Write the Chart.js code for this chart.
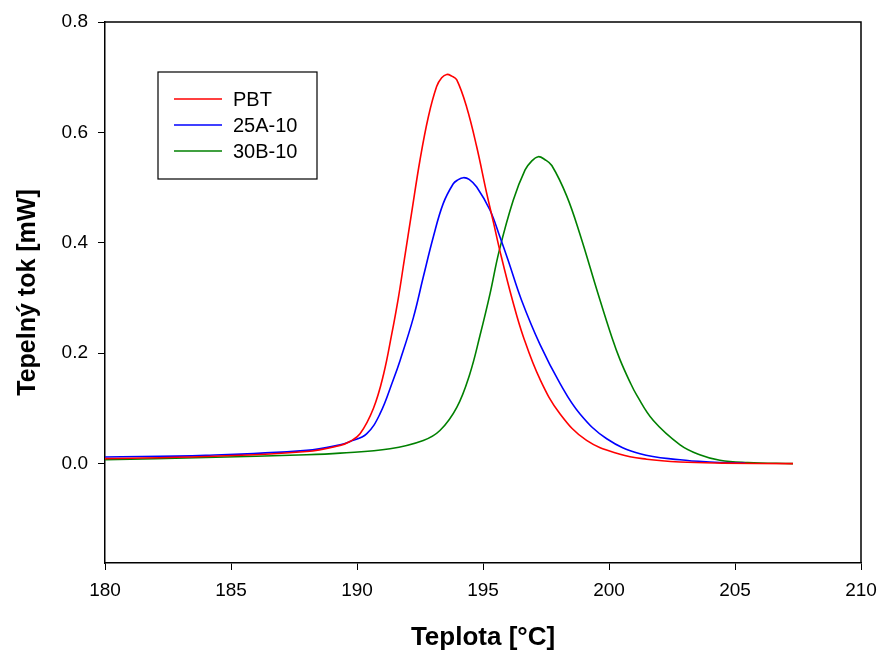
<!DOCTYPE html>
<html>
<head>
<meta charset="utf-8">
<script src="https://cdn.jsdelivr.net/npm/chart.js@4.4.0/dist/chart.umd.min.js"></script>
<style>
  html, body { margin: 0; padding: 0; background: #fff; }
  #wrap { width: 881px; height: 655px; }
</style>
</head>
<body>
<div id="wrap"><canvas id="dscChart" width="881" height="655"></canvas></div>
<script>
// DSC krystalizace - teplota [°C] a tepelný tok [mW]
var pbtT = [180, 184, 188, 189.33, 189.72, 190.12, 190.65, 191.05, 191.38, 191.64, 191.88, 192.17, 192.5, 192.83, 193.16, 193.36, 193.56, 193.76, 193.96, 194.35, 194.75, 195.15, 195.41, 195.7, 196.17, 196.6, 197.26, 198.06, 199.11, 200.44, 201.5, 202.82, 204.5, 207.3];
var pbtQ = [0.009, 0.013, 0.022, 0.033, 0.040, 0.054, 0.100, 0.161, 0.235, 0.300, 0.370, 0.455, 0.550, 0.628, 0.683, 0.699, 0.705, 0.702, 0.695, 0.646, 0.574, 0.489, 0.438, 0.380, 0.296, 0.230, 0.153, 0.090, 0.042, 0.017, 0.008, 0.003, 0.001, 0.000];

var a25T = [180, 184, 188, 189.33, 189.72, 190.38, 190.91, 191.44, 191.71, 192.24, 192.63, 193.03, 193.42, 193.82, 194.0, 194.22, 194.45, 194.75, 195.28, 195.67, 196.0, 196.53, 197.26, 198.06, 198.85, 199.91, 201.23, 202.82, 204.0, 205.4];
var a25Q = [0.012, 0.015, 0.024, 0.034, 0.040, 0.054, 0.090, 0.152, 0.187, 0.265, 0.338, 0.411, 0.471, 0.507, 0.514, 0.518, 0.515, 0.501, 0.459, 0.411, 0.368, 0.296, 0.216, 0.145, 0.090, 0.045, 0.018, 0.007, 0.003, 0.001];

var b30T = [180, 184, 188, 189.33, 191.31, 192.63, 193.29, 193.96, 194.48, 194.88, 195.28, 195.64, 196.2, 196.67, 196.93, 197.19, 197.45, 197.73, 198.32, 198.85, 199.55, 200.12, 200.44, 200.83, 201.1, 201.76, 202.82, 203.6, 204.4, 205.5, 207.3];
var b30Q = [0.007, 0.011, 0.016, 0.019, 0.027, 0.042, 0.060, 0.102, 0.163, 0.232, 0.308, 0.385, 0.477, 0.532, 0.548, 0.556, 0.551, 0.540, 0.485, 0.415, 0.310, 0.228, 0.188, 0.148, 0.124, 0.078, 0.034, 0.016, 0.006, 0.002, 0.000];

var seriesNames = ['PBT', '25A-10', '30B-10'];
var seriesColors = ['#ff0000', '#0000ff', '#008000'];
var xTicks = [180, 185, 190, 195, 200, 205, 210];
var yTicks = [0.0, 0.2, 0.4, 0.6, 0.8];

function toPoints(t, q) {
  return t.map(function (v, i) { return { x: v, y: q[i] }; });
}

// rámeček kolem grafu (horní a pravá strana)
var framePlugin = {
  id: 'frame',
  afterDraw: function (chart) {
    var a = chart.chartArea, ctx = chart.ctx;
    ctx.save();
    ctx.strokeStyle = '#000';
    ctx.lineWidth = 1.5;
    ctx.beginPath();
    ctx.moveTo(a.left, a.top);
    ctx.lineTo(a.right, a.top);
    ctx.lineTo(a.right, a.bottom);
    ctx.stroke();
    ctx.restore();
  }
};

// legenda uvnitř grafu
var boxLegend = {
  id: 'boxLegend',
  afterDraw: function (chart) {
    var a = chart.chartArea, ctx = chart.ctx;
    var x0 = a.left + 53, y0 = a.top + 50, w = 159, h = 107;
    ctx.save();
    ctx.fillStyle = '#fff';
    ctx.fillRect(x0, y0, w, h);
    ctx.strokeStyle = '#000';
    ctx.lineWidth = 1.2;
    ctx.strokeRect(x0, y0, w, h);
    ctx.font = '20px "Liberation Sans", Arial, sans-serif';
    ctx.textBaseline = 'middle';
    chart.data.datasets.forEach(function (ds, i) {
      var y = y0 + 27 + i * 26;
      ctx.strokeStyle = ds.borderColor;
      ctx.lineWidth = 1.5;
      ctx.beginPath();
      ctx.moveTo(x0 + 16, y);
      ctx.lineTo(x0 + 64, y);
      ctx.stroke();
      ctx.fillStyle = '#000';
      ctx.fillText(ds.label, x0 + 75, y + 1);
    });
    ctx.restore();
  }
};

var ctx = document.getElementById('dscChart').getContext('2d');
var dscChart = new Chart(ctx, {
  type: 'line',
  data: {
    datasets: [
      { label: seriesNames[0], data: toPoints(pbtT, pbtQ), borderColor: seriesColors[0] },
      { label: seriesNames[1], data: toPoints(a25T, a25Q), borderColor: seriesColors[1] },
      { label: seriesNames[2], data: toPoints(b30T, b30Q), borderColor: seriesColors[2] }
    ]
  },
  options: {
    responsive: false,
    animation: false,
    devicePixelRatio: 1,
    layout: { padding: { top: 22, right: 20, left: 0, bottom: 0 } },
    elements: {
      point: { radius: 0 },
      line: { borderWidth: 1.6, tension: 0.4, fill: false }
    },
    plugins: {
      legend: { display: false },
      tooltip: { enabled: false }
    },
    scales: {
      x: {
        type: 'linear',
        min: 180,
        max: 210,
        afterBuildTicks: function (scale) {
          scale.ticks = xTicks.map(function (v) { return { value: v }; });
        },
        afterFit: function (scale) {
          scale.height = 92;
          scale.paddingLeft = 0;
          scale.paddingRight = 0;
        },
        grid: { drawOnChartArea: false, drawTicks: true, tickLength: 7, color: '#000', lineWidth: 1 },
        border: { display: true, color: '#000', width: 1.5 },
        ticks: {
          color: '#000',
          padding: 9,
          maxRotation: 0,
          font: { family: '"Liberation Sans", Arial, sans-serif', size: 19 }
        },
        title: {
          display: true,
          text: 'Teplota [°C]',
          color: '#000',
          padding: { top: 0, bottom: 2 },
          font: { family: '"Liberation Sans", Arial, sans-serif', size: 26, weight: 'bold' }
        }
      },
      y: {
        type: 'linear',
        min: -0.18,
        max: 0.8,
        afterBuildTicks: function (scale) {
          scale.ticks = yTicks.map(function (v) { return { value: v }; });
        },
        afterFit: function (scale) {
          scale.width = 105;
          scale.paddingTop = 0;
          scale.paddingBottom = 0;
        },
        grid: { drawOnChartArea: false, drawTicks: true, tickLength: 7, color: '#000', lineWidth: 1 },
        border: { display: true, color: '#000', width: 1.5 },
        ticks: {
          color: '#000',
          padding: 10,
          font: { family: '"Liberation Sans", Arial, sans-serif', size: 19 },
          callback: function (v) { return Number(v).toFixed(1); }
        },
        title: {
          display: true,
          text: 'Tepelný tok [mW]',
          color: '#000',
          padding: { top: 13, bottom: 0 },
          font: { family: '"Liberation Sans", Arial, sans-serif', size: 25, weight: 'bold' }
        }
      }
    }
  },
  plugins: [framePlugin, boxLegend]
});
</script>
</body>
</html>
